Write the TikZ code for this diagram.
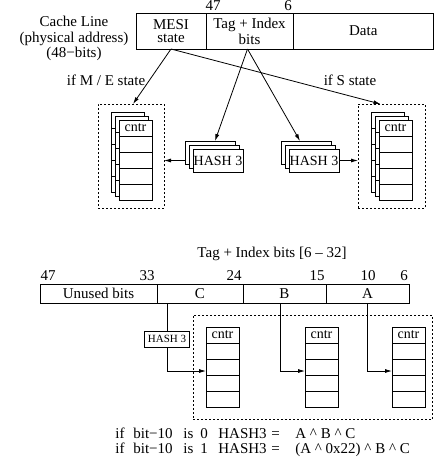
\documentclass[tikz,border=0pt]{standalone}
\usepackage{fontspec}
\setmainfont{Liberation Serif}
\usetikzlibrary{arrows.meta,calc}
\newcommand\backlayer[2]{%
  \draw[fill=white] (#1,#2) rectangle ++(33,80);
  \foreach \k in {16,32,48,64} {\draw (#1,#2+\k) -- ++(33,0);}
}
\newcommand\frontcol[3]{%
  \node[cellbox, anchor=north west, minimum width=33pt, minimum height=16pt, font=\fontsize{14}{14}\selectfont] (#1c) at (#2,#3) {cntr};
  \node[cellbox, anchor=north, minimum width=33pt, minimum height=16pt] (#1a) at (#1c.south) {};
  \node[cellbox, anchor=north, minimum width=33pt, minimum height=16pt] (#1b) at (#1a.south) {};
  \node[cellbox, anchor=north, minimum width=33pt, minimum height=16pt] (#1d) at (#1b.south) {};
  \node[cellbox, anchor=north, minimum width=33pt, minimum height=16pt] (#1e) at (#1d.south) {};
}
\begin{document}
\begin{tikzpicture}[x=1pt,y=-1pt,line width=0.8pt,
  txt/.style={inner sep=0pt,font=\fontsize{15}{15.5}\selectfont},
  cellbox/.style={draw,fill=white,inner sep=0pt,outer sep=0pt,font=\fontsize{15}{15.5}\selectfont},
  dbox/.style={draw,dash pattern=on 2pt off 2pt,inner sep=0pt,outer sep=0pt},
  arr/.style={-{Latex[length=7pt,width=4pt]}},
  hashbox/.style={cellbox,anchor=north west,minimum width=50pt,minimum height=23pt,font=\fontsize{14}{14}\selectfont},
]
\useasboundingbox (0,0) rectangle (434,461);

% ---------- top cache line ----------
\node[txt, anchor=north, align=center] (cl) at (74,16) {Cache Line\\(physical address)\\(48−bits)};
\node[cellbox, anchor=north west, minimum width=70pt, minimum height=36pt, align=center, font=\fontsize{15}{13}\selectfont] (mesi) at (136,13) {MESI\\state};
\node[cellbox, anchor=north west, minimum width=87pt, minimum height=36pt, align=center, font=\fontsize{15}{16}\selectfont] (tag) at (206,13) {Tag + Index\\bits};
\node[cellbox, anchor=north west, minimum width=140.5pt, minimum height=36pt] (data) at (293,13) {Data};
\node[txt, anchor=base] (n47) at (213,10.5) {47};
\node[txt, anchor=base] (n6) at (288,10.5) {6};

\node[txt, anchor=base] (lme) at (106,85) {if M / E state};
\node[txt, anchor=base] (ls) at (350,85) {if S state};

% dashed boxes
\node[dbox, anchor=north west, minimum width=66pt, minimum height=104pt] (lbox) at (98,104) {};
\node[dbox, anchor=north west, minimum width=67pt, minimum height=104pt] (rbox) at (358,104) {};

% left counter stack
\backlayer{111}{112}
\backlayer{115}{116}
\frontcol{L}{119}{120}
% right counter stack
\backlayer{371}{112}
\backlayer{375}{116}
\frontcol{R}{379}{120}

% hash stacks
\node[hashbox] (hashLb) at (185,141) {};
\node[hashbox] (hashLm) at (189,145) {};
\node[hashbox] (hashL) at (193,149) {HASH 3};
\node[hashbox] (hashRb) at (281,141) {};
\node[hashbox] (hashRm) at (285,145) {};
\node[hashbox] (hashR) at (289,149) {HASH 3};

% top arrows
\draw[arr] (mesi.south) -- ([xshift=2pt]lbox.north);
\draw[arr] (mesi.south) -- ([xshift=-11pt]rbox.north);
\draw[arr] ([xshift=-2pt]tag.south) -- ([xshift=5pt]hashLb.north);
\draw[arr] ([xshift=-2pt]tag.south) -- ([xshift=-6pt]hashRb.north);
\draw[arr] (hashLb.west |- hashL.center) -- (lbox.east |- hashL.center);
\draw[arr] (hashR.east) -- (rbox.west |- hashR.east);

% ---------- bottom ----------
\node[txt, anchor=base] (title) at (272,257) {Tag + Index bits [6 – 32]};
\node[txt, anchor=base] (b47) at (48,280) {47};
\node[txt, anchor=base] (b33) at (147,280) {33};
\node[txt, anchor=base] (b24) at (234,280) {24};
\node[txt, anchor=base] (b15) at (317,280) {15};
\node[txt, anchor=base] (b10) at (368,280) {10};
\node[txt, anchor=base] (b6) at (404,280) {6};

\node[cellbox, anchor=north west, minimum width=117pt, minimum height=19pt] (unused) at (40,284) {Unused bits};
\node[cellbox, anchor=north west, minimum width=86pt, minimum height=19pt] (cC) at (157,284) {C};
\node[cellbox, anchor=north west, minimum width=83pt, minimum height=19pt] (cB) at (243,284) {B};
\node[cellbox, anchor=north west, minimum width=83pt, minimum height=19pt] (cA) at (326,284) {A};

\node[dbox, anchor=north west, minimum width=239.5pt, minimum height=104pt] (bbox) at (193,315) {};

\frontcol{P}{206}{327}
\frontcol{Q}{305}{327}
\frontcol{S}{392}{327}

\node[cellbox, minimum width=45pt, minimum height=16pt, font=\fontsize{11}{11}\selectfont] (h3) at (167,339) {HASH 3};
\draw (h3.north |- cC.south) -- (h3.north);
\draw[arr] (h3.south) |- ([yshift=-4pt]Pb.west);
\draw[arr] ([xshift=-4.5pt]cB.south) |- ([yshift=-4pt]Qb.west);
\draw[arr] (cA.south) |- ([yshift=-4pt]Sb.west);

\node[txt, anchor=base west] (eq1) at (115,438) {\makebox[18pt][l]{if}\makebox[50pt][l]{bit−10}\makebox[17pt][l]{is}\makebox[18pt][l]{0}\makebox[53pt][l]{HASH3}\makebox[24pt][l]{=}A \textasciicircum{} B \textasciicircum{} C};
\node[txt, anchor=base west] (eq2) at (115,453) {\makebox[18pt][l]{if}\makebox[50pt][l]{bit−10}\makebox[17pt][l]{is}\makebox[18pt][l]{1}\makebox[53pt][l]{HASH3}\makebox[24pt][l]{=}(A \textasciicircum{} 0x22) \textasciicircum{} B \textasciicircum{} C};
\end{tikzpicture}
\end{document}
